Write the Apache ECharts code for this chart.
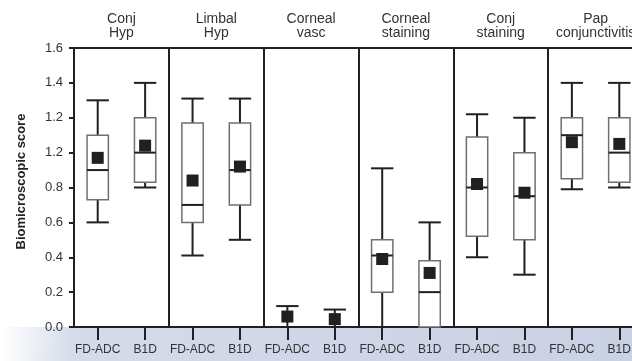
<!DOCTYPE html>
<html>
<head>
<meta charset="utf-8">
<script src="https://cdn.jsdelivr.net/npm/echarts@6/dist/echarts.min.js"></script>
<style>
html,body{margin:0;padding:0;background:#fff;}
#chart{width:632px;height:361px;}
</style>
</head>
<body>
<div id="chart"></div>
<script>
const categories = ['FD-ADC','B1D','FD-ADC','B1D','FD-ADC','B1D','FD-ADC','B1D','FD-ADC','B1D','FD-ADC','B1D'];
const panels = ['Conj\nHyp','Limbal\nHyp','Corneal\nvasc','Corneal\nstaining','Conj\nstaining','Pap\nconjunctivitis'];
const whiskerLow  = [0.60, 0.80, 0.41, 0.50, 0.00, 0.00, 0.00, 0.00, 0.40, 0.30, 0.79, 0.80];
const quart1      = [0.73, 0.83, 0.60, 0.70, 0.00, 0.00, 0.20, 0.00, 0.52, 0.50, 0.85, 0.83];
const medians     = [0.90, 1.00, 0.70, 0.90, 0.00, 0.00, 0.41, 0.20, 0.80, 0.75, 1.10, 1.00];
const quart3      = [1.10, 1.20, 1.17, 1.17, 0.00, 0.00, 0.50, 0.38, 1.09, 1.00, 1.20, 1.20];
const whiskerHigh = [1.30, 1.40, 1.31, 1.31, 0.12, 0.10, 0.91, 0.60, 1.22, 1.20, 1.40, 1.40];
const means       = [0.97, 1.04, 0.84, 0.92, 0.06, 0.045, 0.39, 0.31, 0.82, 0.77, 1.06, 1.05];
const yTickLabels = ['0.0','0.2','0.4','0.6','0.8','1.2','1.2','1.4','1.6'];

const ink = '#231f20';
const boxData = categories.map((c, i) => [i, whiskerLow[i], quart1[i], medians[i], quart3[i], whiskerHigh[i]]);
const meanData = categories.map((c, i) => [i, means[i]]);

const chart = echarts.init(document.getElementById('chart'));
chart.setOption({
  animation: false,
  backgroundColor: '#ffffff',
  textStyle: {fontFamily: 'Liberation Sans, Arial, sans-serif'},
  graphic: {
    elements: [{
      type: 'rect', z: -100, silent: true,
      shape: {x: 0, y: 327, width: 632, height: 34},
      style: {
        fill: new echarts.graphic.LinearGradient(0, 0, 1, 0.3, [
          {offset: 0, color: '#ffffff'},
          {offset: 0.12, color: '#d5dbea'},
          {offset: 1, color: '#c9d1e4'}
        ])
      }
    }]
  },
  grid: {left: 74, top: 48, width: 569, height: 279, containLabel: false, outerBoundsMode: 'none'},
  xAxis: [{
    type: 'category', data: categories, position: 'bottom', boundaryGap: true,
    axisLine: {show: true, lineStyle: {color: ink, width: 2}},
    axisTick: {show: true, alignWithLabel: true, length: 13, lineStyle: {color: ink, width: 2}},
    axisLabel: {interval: 0, fontSize: 12, color: '#333', margin: 17},
    splitLine: {show: false}
  }, {
    type: 'category', data: panels, position: 'top', boundaryGap: true,
    axisLine: {show: true, lineStyle: {color: ink, width: 2}},
    axisTick: {show: false},
    axisLabel: {interval: 0, fontSize: 14, color: '#333', margin: 8, lineHeight: 14},
    splitLine: {show: true, interval: 0, lineStyle: {color: ink, width: 2}}
  }],
  yAxis: {
    type: 'value', min: 0, max: 1.6, interval: 0.2,
    name: 'Biomicroscopic score', nameLocation: 'middle', nameGap: 46,
    nameTextStyle: {fontSize: 13, fontWeight: 'bold', color: '#222', padding: [0, 0, 0, 12]},
    axisLine: {show: true, lineStyle: {color: ink, width: 2}},
    axisTick: {show: true, length: 5, lineStyle: {color: ink, width: 2}},
    axisLabel: {fontSize: 13, color: '#333', margin: 11,
      formatter: v => yTickLabels[Math.round(v / 0.2)]},
    splitLine: {show: false}
  },
  series: [{
    type: 'custom', xAxisIndex: 0, yAxisIndex: 0, clip: false, z: 3,
    data: boxData,
    renderItem: function (params, api) {
      const x = api.value(0);
      const band = api.size([1, 0])[0];
      const w = band * 0.45;
      const pLow = api.coord([x, api.value(1)]);
      const pQ1 = api.coord([x, api.value(2)]);
      const pMed = api.coord([x, api.value(3)]);
      const pQ3 = api.coord([x, api.value(4)]);
      const pHigh = api.coord([x, api.value(5)]);
      const cx = pMed[0];
      const lineStyle = {stroke: ink, lineWidth: 2};
      const children = [
        {type: 'line', shape: {x1: cx, y1: pHigh[1], x2: cx, y2: pQ3[1]}, style: lineStyle},
        {type: 'line', shape: {x1: cx, y1: pQ1[1], x2: cx, y2: pLow[1]}, style: lineStyle},
        {type: 'line', shape: {x1: cx - w / 2 - 0.5, y1: pHigh[1], x2: cx + w / 2 + 0.5, y2: pHigh[1]}, style: lineStyle},
        {type: 'line', shape: {x1: cx - w / 2 - 0.5, y1: pLow[1], x2: cx + w / 2 + 0.5, y2: pLow[1]}, style: lineStyle},
        {type: 'rect', shape: {x: cx - w / 2, y: pQ3[1], width: w, height: pQ1[1] - pQ3[1]},
          style: {fill: '#ffffff', stroke: '#707070', lineWidth: 1.5}},
        {type: 'line', shape: {x1: cx - w / 2, y1: pMed[1], x2: cx + w / 2, y2: pMed[1]}, style: lineStyle}
      ];
      return {type: 'group', children: children};
    }
  }, {
    type: 'scatter', xAxisIndex: 0, yAxisIndex: 0, z: 4,
    data: meanData, symbol: 'rect', symbolSize: 12,
    itemStyle: {color: ink, opacity: 1}
  }]
});
</script>
</body>
</html>
